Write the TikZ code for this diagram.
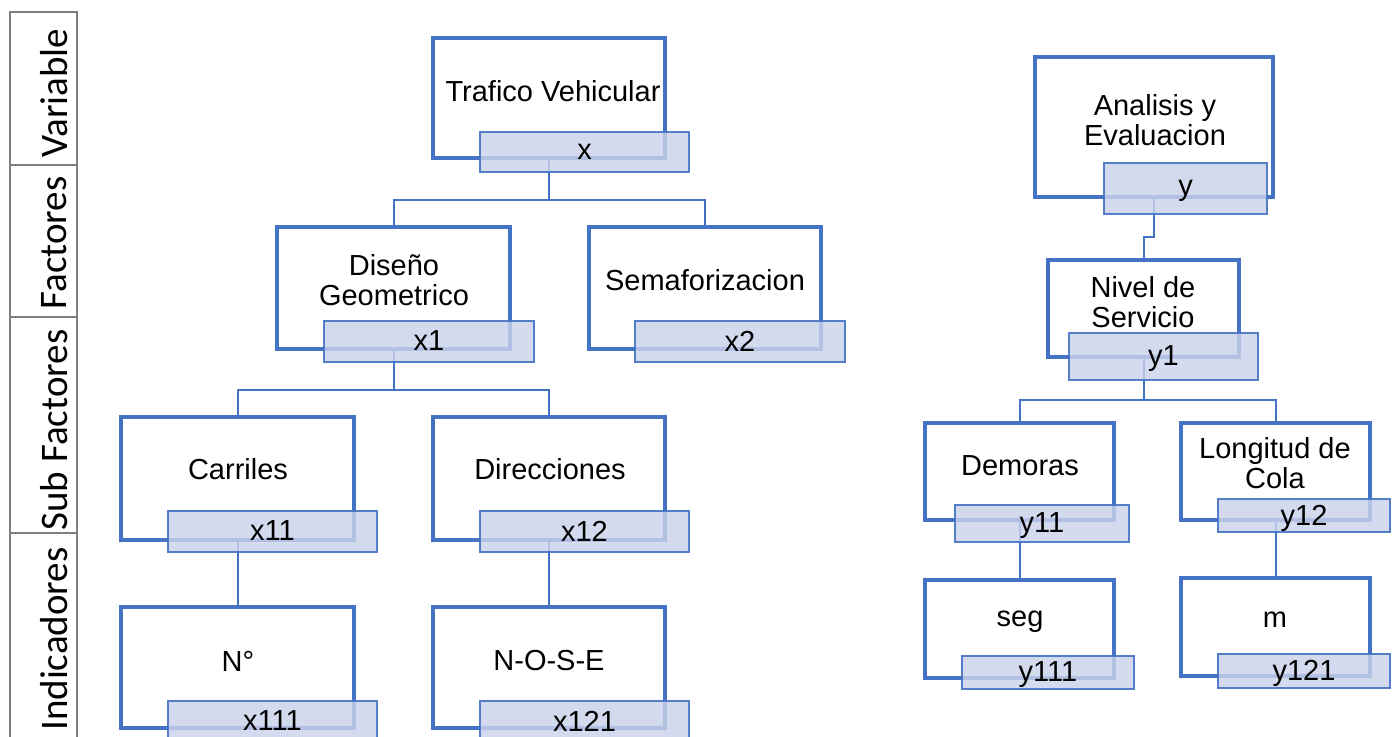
\documentclass[tikz,border=0pt]{standalone}
\usepackage{fontspec}
\setmainfont{Liberation Sans}
\newfontfamily\ejefont{Carlito}
\definecolor{azul}{HTML}{4472C4}
\definecolor{celeste}{HTML}{CBD3EA}
\definecolor{gris}{HTML}{7F7F7F}
\tikzset{
  caja/.style 2 args={draw=azul, line width=1.75pt, fill=white, inner sep=0pt,
    minimum width=#1*0.5pt, minimum height=#2*0.5pt},
  etiq/.style 2 args={draw=azul, line width=1pt, fill=celeste, fill opacity=0.82,
    draw opacity=0.9, text opacity=1, inner sep=0pt, text depth=0.5pt,
    minimum width=#1*0.5pt, minimum height=#2*0.5pt, font=\fontsize{14.5}{15}\selectfont},
  texto/.style={align=center, inner sep=0pt, font=\fontsize{14.5}{15}\selectfont},
  linea/.style={draw=azul, line width=1pt},
  eje/.style={draw=gris, line width=1pt},
  ejetexto/.style={rotate=90, inner sep=0pt, font=\ejefont\fontsize{19.5}{21}\selectfont}
}
\begin{document}
\begin{tikzpicture}[x=0.5pt,y=-0.5pt]
\useasboundingbox (0,0) rectangle (1399,736);
% eje de niveles
\foreach \a/\b/\c/\t [count=\i] in {12/165/93/Variable,165/317/243/Factores,317/533/430/Sub Factores,533/760/639/Indicadores} {
  \draw[eje] (10,\a) rectangle (77,\b);
  \node[ejetexto, name=eje\i] at (54,\c) {\t};
}
% cajas variable x
\node[caja={232}{120}] (tv) at (549,98) {};
\node[caja={233}{122}] (dg) at (393.5,288) {};
\node[caja={232}{122}] (sem) at (705,288) {};
\node[caja={233}{123}] (car) at (237.5,478.5) {};
\node[caja={232}{123}] (dir) at (549,478.5) {};
\node[caja={233}{121}] (nro) at (237.5,667.5) {};
\node[caja={232}{121}] (nose) at (549,667.5) {};
% cajas variable y
\node[caja={238}{140}] (ae) at (1154,127) {};
\node[caja={191}{97}] (ns) at (1143.5,308.5) {};
\node[caja={189}{97}] (dem) at (1019.5,471.5) {};
\node[caja={189}{97}] (lc) at (1275.5,471.5) {};
\node[caja={189}{98}] (seg) at (1019.5,629) {};
\node[caja={189}{98}] (met) at (1275.5,627) {};
% textos
\node[texto] (tvt) at (553,91) {Trafico Vehicular};
\node[texto] (dgt) at (394,280) {Diseño\\Geometrico};
\node[texto] (semt) at (705,280) {Semaforizacion};
\node[texto] (cart) at (238,469) {Carriles};
\node[texto] (dirt) at (550,469) {Direcciones};
\node[texto] (nrot) at (238,661) {N°};
\node[texto] (noset) at (549,661) {N-O-S-E};
\node[texto] (aet) at (1155,120) {Analisis y\\Evaluacion};
\node[texto] (nst) at (1143,302) {Nivel de\\Servicio};
\node[texto] (demt) at (1020,466) {Demoras};
\node[texto] (lct) at (1275,463) {Longitud de\\Cola};
\node[texto] (segt) at (1020,622) {seg};
\node[texto] (mett) at (1275,620) {m};
% conectores
\coordinate (b1) at (549,200);
\coordinate (b2) at (393.5,390);
\coordinate (j1) at (1154,237);
\coordinate (b3) at (1143.5,400);
\draw[linea] (tv.south) -- (b1) -| (dg.north);
\draw[linea] (b1) -| (sem.north);
\draw[linea] (dg.south) -- (b2) -| (car.north);
\draw[linea] (b2) -| (dir.north);
\draw[linea] (car.south) -- (nro.north);
\draw[linea] (dir.south) -- (nose.north);
\draw[linea] (ae.south) -- (j1) -| (ns.north);
\draw[linea] (ns.south) -- (b3) -| (dem.north);
\draw[linea] (b3) -| (lc.north);
\draw[linea] (dem.south) -- (seg.north);
\draw[linea] (lc.south) -- (met.north);
% etiquetas
\node[etiq={209}{40}] (x) at (584.5,152) {x};
\node[etiq={210}{41}] (x1) at (429,341.5) {x1};
\node[etiq={210}{41}] (x2) at (740,341.5) {x2};
\node[etiq={209}{41}] (x11) at (272.5,531.5) {x11};
\node[etiq={209}{41}] (x12) at (584.5,531.5) {x12};
\node[etiq={209}{41}] (x111) at (272.5,721.5) {x111};
\node[etiq={209}{41}] (x121) at (584.5,721.5) {x121};
\node[etiq={163}{51}] (y) at (1185.5,188.5) {y};
\node[etiq={189}{47}] (y1) at (1163.5,356.5) {y1};
\node[etiq={174}{37}] (y11) at (1042,523.5) {y11};
\node[etiq={172}{33}] (y12) at (1304,515.5) {y12};
\node[etiq={172}{33}] (y111) at (1048,672.5) {y111};
\node[etiq={172}{34}] (y121) at (1304,671) {y121};
\end{tikzpicture}
\end{document}
